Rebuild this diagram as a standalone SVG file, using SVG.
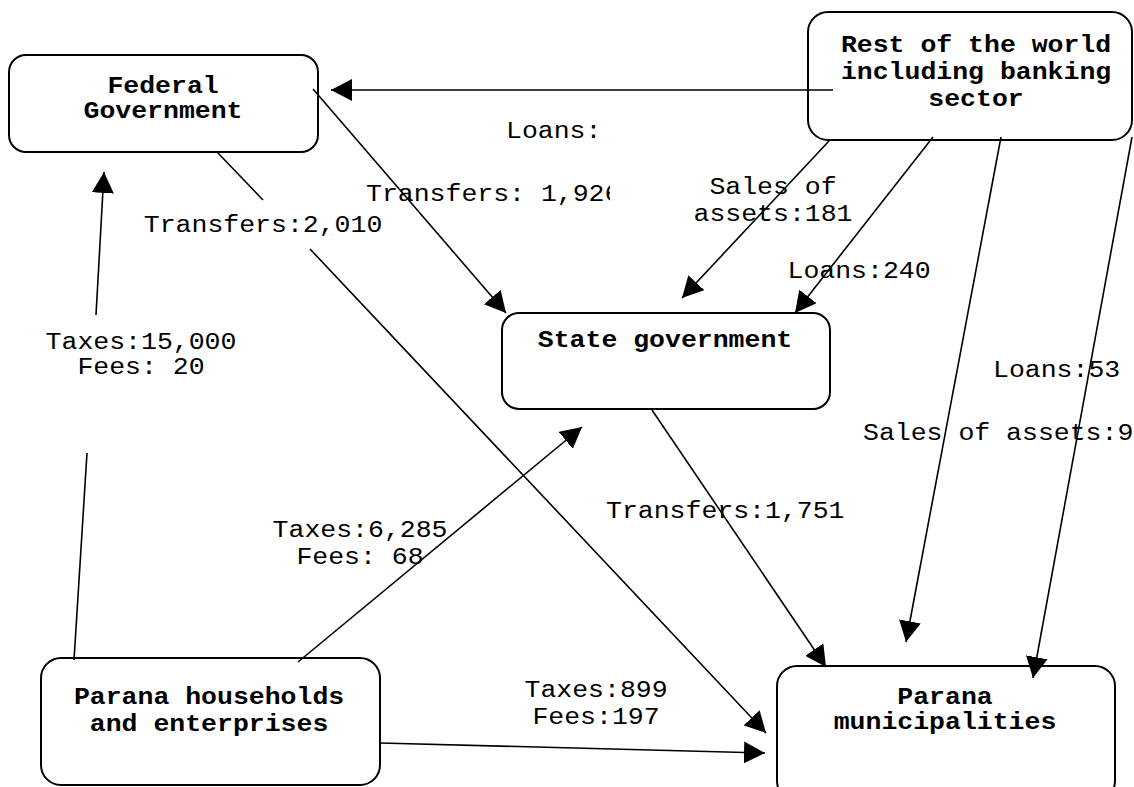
<svg xmlns="http://www.w3.org/2000/svg" width="1134" height="787" viewBox="0 0 1134 787">
<style>
.box{fill:#fff;stroke:#000;stroke-width:2}
.node{font-family:"Liberation Mono","Courier New",monospace;font-size:23px;font-weight:bold;fill:#000}
.lbl{font-family:"Liberation Mono","Courier New",monospace;font-size:23px;fill:#000}
.ln{fill:none;stroke:#000;stroke-width:1.6}
</style>
<defs>
<marker id="ah" markerUnits="userSpaceOnUse" markerWidth="22" markerHeight="22" refX="21" refY="11" orient="auto">
<path d="M0,0 L21,11 L0,22 z" fill="#000"/>
</marker>
<clipPath id="clipT"><rect x="0" y="0" width="610" height="787"/></clipPath>
</defs>
<rect width="1134" height="787" fill="#fff"/>
<g id="fed"><rect class="box" x="9" y="55" width="309" height="97" rx="17"/>
<text class="node" x="107.4" y="93" textLength="111.3" lengthAdjust="spacingAndGlyphs">Federal</text>
<text class="node" x="83.5" y="118" textLength="159" lengthAdjust="spacingAndGlyphs">Government</text></g>
<g id="row"><rect class="box" x="808" y="12" width="324" height="128" rx="20"/>
<text class="node" x="840.9" y="52" textLength="270.3" lengthAdjust="spacingAndGlyphs">Rest of the world</text>
<text class="node" x="840.9" y="79" textLength="270.3" lengthAdjust="spacingAndGlyphs">including banking</text>
<text class="node" x="928.3" y="106" textLength="95.4" lengthAdjust="spacingAndGlyphs">sector</text></g>
<g id="state"><rect class="box" x="502" y="313" width="328" height="96" rx="17"/>
<text class="node" x="537.8" y="347" textLength="254.4" lengthAdjust="spacingAndGlyphs">State government</text></g>
<g id="hh"><rect class="box" x="41" y="658" width="339" height="127" rx="20"/>
<text class="node" x="73.9" y="704" textLength="270.3" lengthAdjust="spacingAndGlyphs">Parana households</text>
<text class="node" x="89.8" y="731" textLength="238.5" lengthAdjust="spacingAndGlyphs">and enterprises</text></g>
<g id="muni"><rect class="box" x="777" y="666" width="338" height="135" rx="20"/>
<text class="node" x="897.3" y="704" textLength="95.4" lengthAdjust="spacingAndGlyphs">Parana</text>
<text class="node" x="833.7" y="729" textLength="222.6" lengthAdjust="spacingAndGlyphs">municipalities</text></g>
<g id="connectors">
<path class="ln" d="M833,90 L331,90" marker-end="url(#ah)"/>
<path class="ln" d="M313,89 L506,313" marker-end="url(#ah)"/>
<path class="ln" d="M217,152 L263,200 M310,249 L766,733" marker-end="url(#ah)"/>
<path class="ln" d="M74,660 L87,453 M96,315 L104,172" marker-end="url(#ah)"/>
<path class="ln" d="M298,662 L582,427" marker-end="url(#ah)"/>
<path class="ln" d="M380,743 L765,753" marker-end="url(#ah)"/>
<path class="ln" d="M652,410 L826,667" marker-end="url(#ah)"/>
<path class="ln" d="M829,141 L682,298" marker-end="url(#ah)"/>
<path class="ln" d="M933,137 L795,313" marker-end="url(#ah)"/>
<path class="ln" d="M1001,137 L906,642" marker-end="url(#ah)"/>
<path class="ln" d="M1132,137 L1033,678" marker-end="url(#ah)"/>
</g>
<g id="labels">
<text class="lbl" x="506" y="138" textLength="95.4" lengthAdjust="spacingAndGlyphs">Loans:</text>
<text class="lbl" x="366" y="201" textLength="254.4" lengthAdjust="spacingAndGlyphs" clip-path="url(#clipT)">Transfers: 1,926</text>
<text class="lbl" x="143.8" y="232" textLength="238.5" lengthAdjust="spacingAndGlyphs">Transfers:2,010</text>
<text class="lbl" x="45.6" y="349" textLength="190.8" lengthAdjust="spacingAndGlyphs">Taxes:15,000</text>
<text class="lbl" x="77.4" y="374" textLength="127.2" lengthAdjust="spacingAndGlyphs">Fees: 20</text>
<text class="lbl" x="709.4" y="194" textLength="127.2" lengthAdjust="spacingAndGlyphs">Sales of</text>
<text class="lbl" x="693.5" y="221" textLength="159" lengthAdjust="spacingAndGlyphs">assets:181</text>
<text class="lbl" x="787.5" y="278" textLength="143.1" lengthAdjust="spacingAndGlyphs">Loans:240</text>
<text class="lbl" x="993" y="377" textLength="127.2" lengthAdjust="spacingAndGlyphs">Loans:53</text>
<text class="lbl" x="863" y="440" textLength="270.3" lengthAdjust="spacingAndGlyphs">Sales of assets:9</text>
<text class="lbl" x="272.6" y="537" textLength="174.9" lengthAdjust="spacingAndGlyphs">Taxes:6,285</text>
<text class="lbl" x="296.4" y="564" textLength="127.2" lengthAdjust="spacingAndGlyphs">Fees: 68</text>
<text class="lbl" x="606" y="518" textLength="238.5" lengthAdjust="spacingAndGlyphs">Transfers:1,751</text>
<text class="lbl" x="524.5" y="697" textLength="143.1" lengthAdjust="spacingAndGlyphs">Taxes:899</text>
<text class="lbl" x="532.4" y="724" textLength="127.2" lengthAdjust="spacingAndGlyphs">Fees:197</text>
</g>
</svg>
